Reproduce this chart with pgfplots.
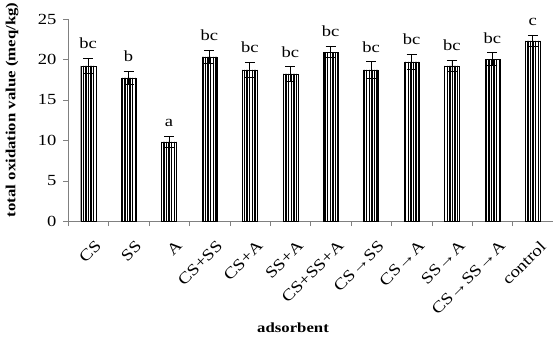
\documentclass[border=0pt]{standalone}
\usepackage{pgfplots}
\pgfplotsset{compat=1.18}
\usepackage{pgfplotstable}
\usepackage{fontspec}
\setmainfont{Liberation Serif}[FakeStretch=1.2]
\usetikzlibrary{patterns.meta}

\pgfplotstableread{
x y err top lab
0 19.2 0.9 20.1 bc
1 17.7 0.8 18.5 b
2 9.8 0.7 10.5 a
3 20.3 0.8 21.1 bc
4 18.7 0.9 19.6 bc
5 18.2 0.9 19.1 bc
6 20.9 0.7 21.6 bc
7 18.7 1.0 19.7 bc
8 19.7 0.9 20.6 bc
9 19.2 0.7 19.9 bc
10 20.0 0.8 20.8 bc
11 22.3 0.7 23.0 c
}\data

\begin{document}
\begin{tikzpicture}
\useasboundingbox (-68bp,-116bp) rectangle (485bp,221bp);
\begin{axis}[
  at={(0,0)}, anchor=south west,
  scale only axis, width=485bp, height=202bp,
  xmin=-0.5, xmax=11.5, ymin=0, ymax=25,
  axis x line=bottom, axis y line=left,
  axis line style={-, draw=gray},
  font=\fontsize{15.5}{17}\selectfont,
  /pgf/number format/assume math mode=true,
  ytick={0,5,...,25},
  ytick style={draw=gray},
  yticklabel style={xshift=-3bp},
  tick align=outside,
  major tick length=5bp,
  minor tick length=5bp,
  xtick={0,...,11},
  major x tick style={draw=none},
  minor xtick={-0.5,0.5,...,11.5},
  minor x tick style={draw=gray},
  xticklabels={CS, SS, A, CS+SS, CS+A, SS+A, CS+SS+A, CS→SS, CS→A, SS→A, CS→SS→A, control},
  xticklabel style={rotate=45, anchor=north east, inner sep=1bp, yshift=-13bp, xshift=-4bp, font=\fontsize{16}{18}\selectfont},
  xlabel={\textbf{adsorbent}},
  xlabel style={at={(axis description cs:0.464,-0.53)}, anchor=center, font=\fontsize{14}{16}\selectfont},
  ylabel={\textbf{total oxidation value (meq/kg)}},
  ylabel style={at={(axis description cs:-0.1155,0.55)}, anchor=center, font=\fontsize{14}{16}\selectfont},
  clip=false,
]
\addplot[ybar, bar width=15bp, draw=black,
  pattern={Lines[angle=90,distance=2.6bp,line width=1.4bp]},
  error bars/.cd, y dir=both, y explicit,
  error mark options={rotate=90, mark size=5bp, black, line width=0.9pt},
  error bar style={line width=0.9pt, black}]
  table[x=x, y=y, y error=err] {\data};
\addplot[draw=none, mark=none, nodes near coords, point meta=explicit symbolic,
  nodes near coords style={anchor=south, yshift=6bp, font=\fontsize{15.5}{17}\selectfont}]
  table[x=x, y=top, meta=lab] {\data};
\end{axis}
\end{tikzpicture}
\end{document}
